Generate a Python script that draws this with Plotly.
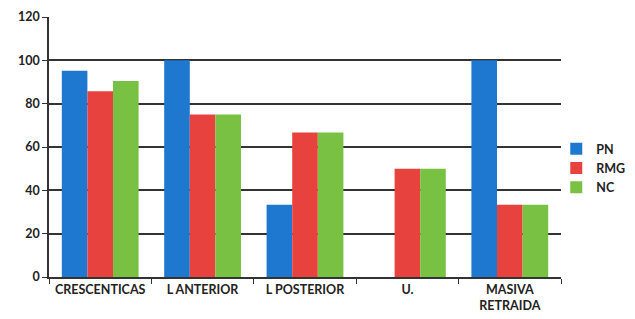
import plotly.graph_objects as go

categories = ["CRESCENTICAS", "L ANTERIOR", "L POSTERIOR", "U.", "MASIVA<br>RETRAIDA"]
pn = [95.2, 100, 33.3, 0, 100]
rmg = [85.7, 75, 66.7, 50, 33.3]
nc = [90.5, 75, 66.7, 50, 33.3]
y_ticks = [0, 20, 40, 60, 80, 100, 120]

colors = {"PN": "#1f78d0", "RMG": "#e8423f", "NC": "#79c143"}

fig = go.Figure()
for name, vals in [("PN", pn), ("RMG", rmg), ("NC", nc)]:
    fig.add_trace(go.Bar(x=categories, y=vals, name=name,
                         marker=dict(color=colors[name], line=dict(width=0))))

font_family = "Lato, Open Sans, sans-serif"
fig.update_layout(
    width=635, height=319,
    barmode="group", bargap=0.25, bargroupgap=0,
    paper_bgcolor="white", plot_bgcolor="white",
    margin=dict(l=49, r=74, t=17, b=42, autoexpand=False),
    font=dict(family=font_family, size=12.5, color="#222"),
    legend=dict(xref="container", yref="container", x=0.876, y=0.473,
                xanchor="left", yanchor="middle",
                font=dict(size=12.5, color="#222", family=font_family, weight="bold"),
                itemwidth=30, tracegroupgap=0, bgcolor="rgba(0,0,0,0)"),
    showlegend=True,
)
fig.update_xaxes(showgrid=False, showline=True, linecolor="#333", linewidth=1.5,
                 ticks="outside", tickson="boundaries", ticklen=5, tickcolor="#333",
                 automargin=False, tickangle=0,
                 tickfont=dict(size=12.5, color="#222", family=font_family, weight="bold"))
fig.update_yaxes(range=[0, 120], tickvals=y_ticks, showgrid=True, gridcolor="#333333",
                 gridwidth=1.8, showline=True, linecolor="#333", linewidth=1.5,
                 ticks="outside", ticklen=5, tickcolor="#333", zeroline=False,
                 automargin=False,
                 tickfont=dict(size=12.5, color="#222", family=font_family, weight="bold"))

fig.write_html("out.html", config={"displayModeBar": False},
               post_script="document.body.style.margin='0';document.body.style.overflow='hidden';")
